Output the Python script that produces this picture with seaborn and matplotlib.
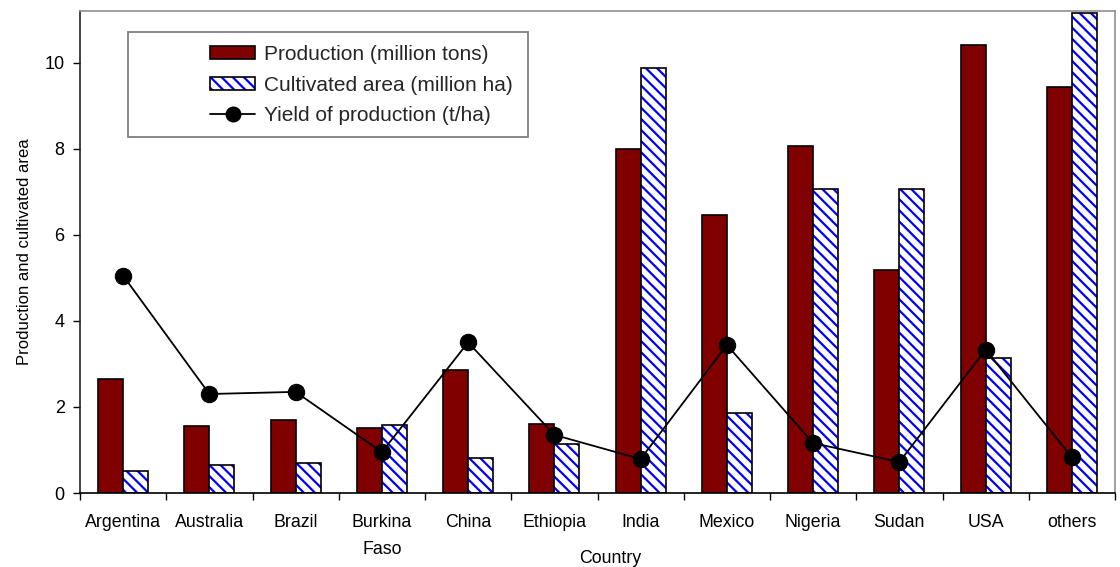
import numpy as np
import pandas as pd
import matplotlib
matplotlib.use("Agg")
import matplotlib.pyplot as plt
import seaborn as sns
from matplotlib.patches import Rectangle, Patch
from matplotlib.lines import Line2D
from matplotlib.legend_handler import HandlerTuple

# ---- data ----
countries = ["Argentina", "Australia", "Brazil", "Burkina\nFaso", "China", "Ethiopia",
             "India", "Mexico", "Nigeria", "Sudan", "USA", "others"]
production = [2.65, 1.55, 1.70, 1.50, 2.85, 1.60, 8.00, 6.46, 8.06, 5.18, 10.42, 9.43]
area = [0.50, 0.65, 0.70, 1.58, 0.82, 1.15, 9.87, 1.86, 7.06, 7.06, 3.13, 11.15]
yield_tha = [5.05, 2.30, 2.35, 0.95, 3.50, 1.35, 0.79, 3.44, 1.16, 0.72, 3.33, 0.83]
series_names = ["Production (million tons)", "Cultivated area (million ha)",
                "Yield of production (t/ha)"]
y_ticks = [0, 2, 4, 6, 8, 10]

sns.set_theme(style="white")
plt.rcParams["font.family"] = ["Liberation Sans", "DejaVu Sans"]
plt.rcParams["hatch.linewidth"] = 1.6

fig = plt.figure(figsize=(11.2, 5.67), dpi=100)
ax = fig.add_axes([80 / 1120, 74 / 567, 1035 / 1120, 482 / 567])

df = pd.DataFrame({
    "Country": countries * 2,
    "Value": production + area,
    "Series": [series_names[0]] * len(countries) + [series_names[1]] * len(countries),
})
sns.barplot(data=df, x="Country", y="Value", hue="Series", hue_order=series_names[:2],
            palette=["#800000", "white"], width=0.58, gap=0, saturation=1,
            edgecolor="black", linewidth=1.2, errorbar=None, legend=False, ax=ax)

HATCH = "\\\\\\"
for bar in ax.containers[1]:
    bar.set_facecolor("white")
    bar.set_edgecolor("#0000ff")
    bar.set_hatch(HATCH)
    bar.set_linewidth(0)
    ax.add_patch(Rectangle(bar.get_xy(), bar.get_width(), bar.get_height(), fill=False,
                           edgecolor="black", linewidth=1.2, zorder=bar.get_zorder() + 0.1))

x_pos = np.arange(len(countries))
sns.lineplot(x=x_pos, y=yield_tha, color="black", linewidth=1.3, marker="o",
             markersize=11.8, markeredgecolor="black", errorbar=None, legend=False,
             ax=ax, zorder=5)

ax.set_xlim(-0.5, len(countries) - 0.5)
ax.set_ylim(0, 11.2)
ax.set_yticks(y_ticks)
ax.set_yticklabels([str(t) for t in y_ticks])
ax.set_xticks(x_pos, labels=countries, linespacing=1.8)
ax.set_xticks(np.arange(-0.5, len(countries), 1), minor=True)
ax.tick_params(axis="x", which="major", length=0, pad=15, labelsize=12.8, colors="black")
ax.tick_params(axis="x", which="minor", length=5, width=1, color="black", direction="out", bottom=True)
ax.tick_params(axis="y", length=5, width=1, direction="out", left=True, labelsize=13,
               pad=6, colors="black")

for side, col in [("left", "#222222"), ("bottom", "black"), ("top", "#909090"), ("right", "#909090")]:
    ax.spines[side].set_color(col)
    ax.spines[side].set_linewidth(1.2)

ax.set_ylabel("Production and cultivated area", fontsize=12, color="black")
ax.yaxis.set_label_coords(-0.0464, 0.5)
ax.set_xlabel("Country", fontsize=12.8, color="black")
ax.xaxis.set_label_coords(0.512, -0.136)
ax.xaxis.label.set_va("center")

h1 = Patch(facecolor="#800000", edgecolor="black", linewidth=1.2)
h2a = Patch(facecolor="white", edgecolor="#0000ff", hatch=HATCH, linewidth=0)
h2b = Patch(facecolor="none", edgecolor="black", linewidth=1.2)
h3 = Line2D([], [], color="black", lw=1.3, marker="o", markersize=10.5)
ax.legend([h1, (h2a, h2b), h3], series_names,
          handler_map={tuple: HandlerTuple(ndivide=1, pad=0)},
          loc="upper left", bbox_to_anchor=(0.1256, 0.9296), frameon=False, fontsize=15,
          handlelength=2.17, handleheight=0.55, handletextpad=0.4, labelspacing=0.56,
          borderpad=0, borderaxespad=0)
fig.add_artist(Rectangle((128 / 1120, (567 - 137) / 567), 400 / 1120, 105 / 567,
                         transform=fig.transFigure, fill=False, edgecolor="#808080", lw=1.3))

fig.canvas.draw()
for tick in ax.xaxis.get_major_ticks():
    tick.label1.set_linespacing(1.8)

fig.savefig("out.png", dpi=100)
